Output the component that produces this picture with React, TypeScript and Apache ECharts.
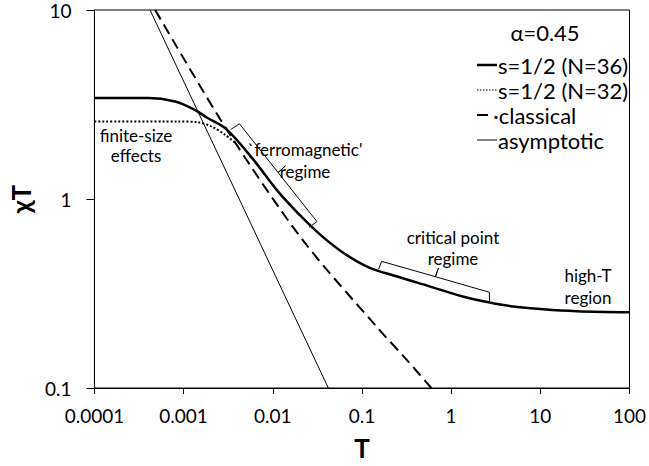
import React, { useEffect, useRef } from 'react';
import * as echarts from 'echarts';

const FONT = "Lato, 'Noto Sans', 'DejaVu Sans', sans-serif";

const xTickLabels = ['0.0001', '0.001', '0.01', '0.1', '1', '10', '100'];
const yTickLabels = ['0.1', '1', '10'];

// s=1/2 (N=36)
const n36T = [0.0001, 0.000188, 0.0004, 0.0008, 0.00132, 0.00184, 0.00305, 0.00603, 0.01135, 0.0203, 0.0337, 0.0634, 0.119, 0.243, 0.573, 1.32, 2.62, 4.68, 10.8, 25.5, 100];
const n36V = [3.42, 3.42, 3.42, 3.28, 2.97, 2.69, 2.33, 1.62, 1.1, 0.818, 0.65, 0.515, 0.435, 0.39, 0.345, 0.306, 0.284, 0.271, 0.261, 0.255, 0.252];

// s=1/2 (N=32)
const n32T = [0.0001, 0.00086, 0.00143, 0.00209, 0.0029, 0.00392];
const n32V = [2.57, 2.57, 2.55, 2.41, 2.19, 1.96];

// classical
const clT = [0.00048, 0.00305, 0.0214, 0.154, 0.29, 0.6];
const clV = [10, 2.33, 0.611, 0.205, 0.148, 0.1];

// asymptotic
const asT = [0.00042, 0.042];
const asV = [10, 0.1];

// brackets (annotation shapes in data coordinates)
const ferroBrT = [0.00337, 0.00423, 0.01148, 0.0139, 0.01148, 0.03126, 0.02553];
const ferroBrV = [2.33, 2.5, 1.38, 1.5, 1.38, 0.76, 0.707];
const critBrT = [0.154, 0.166, 0.667, 0.719, 0.667, 2.69, 2.69];
const critBrV = [0.425, 0.468, 0.388, 0.43, 0.388, 0.321, 0.288];

const legendTitle = 'α=0.45';
const legendNames = ['s=1/2 (N=36)', 's=1/2 (N=32)', '·classical', 'asymptotic'];

const zip = (a: number[], b: number[]) => a.map((t, i) => [t, b[i]]);

const fmt = (labels: string[], offset: number) => (v: number) => {
  const i = Math.round(Math.log10(v)) + offset;
  return labels[i] ?? '';
};

function txt(text: string, x: number, y: number, size: number, align = 'center') {
  return {
    type: 'text',
    x,
    y,
    silent: true,
    style: {
      text,
      fill: '#000',
      fontSize: size,
      fontFamily: FONT,
      textAlign: align,
      align,
      textVerticalAlign: 'middle',
      verticalAlign: 'middle',
    },
  };
}

function seg(x1: number, y1: number, x2: number, y2: number, width: number, dash?: number[]) {
  return {
    type: 'line',
    silent: true,
    shape: { x1, y1, x2, y2 },
    style: { stroke: '#000', lineWidth: width, lineDash: dash },
  };
}

export default function App() {
  const ref = useRef<HTMLDivElement>(null);
  useEffect(() => {
    if (!ref.current) return;
    const chart = echarts.init(ref.current, null, { renderer: 'svg' });
    const axisCommon = {
      type: 'log',
      logBase: 10,
      nameLocation: 'middle',
      nameTextStyle: { fontSize: 26, fontWeight: 'bold', color: '#000', fontFamily: FONT },
      axisLine: { show: true, lineStyle: { color: '#000', width: 1 } },
      splitLine: { show: false },
      minorTick: { show: false },
      minorSplitLine: { show: false },
    };
    chart.setOption({
      animation: false,
      backgroundColor: '#fff',
      textStyle: { fontFamily: FONT },
      grid: { left: 85, right: 18, top: 10, bottom: 77, show: true, borderColor: '#000', borderWidth: 1, backgroundColor: 'transparent' },
      xAxis: {
        ...axisCommon,
        min: 0.0001,
        max: 100,
        name: 'T',
        nameGap: 47,
        axisTick: { show: true, length: 6, lineStyle: { color: '#000' } },
        axisLabel: { formatter: fmt(xTickLabels, 4), fontSize: 19, color: '#000', margin: 18, fontFamily: FONT, showMinLabel: true, showMaxLabel: true },
      },
      yAxis: {
        ...axisCommon,
        min: 0.1,
        max: 10,
        name: 'χT',
        nameGap: 44,
        axisTick: { show: true, length: 8, lineStyle: { color: '#000' } },
        axisLabel: { formatter: fmt(yTickLabels, 1), fontSize: 19, color: '#000', margin: 23, fontFamily: FONT, showMinLabel: true, showMaxLabel: true },
      },
      series: [
        { name: 'asymptotic', type: 'line', data: zip(asT, asV), symbol: 'none', silent: true, lineStyle: { color: '#000', width: 1 }, z: 2 },
        { name: 'classical', type: 'line', data: zip(clT, clV), symbol: 'none', silent: true, smooth: 0.3, lineStyle: { color: '#000', width: 2, type: [11, 6] }, z: 3 },
        { name: 'N32', type: 'line', data: zip(n32T, n32V), symbol: 'none', silent: true, smooth: 0.3, lineStyle: { color: '#000', width: 2, type: [2, 2] }, z: 4 },
        { name: 'N36', type: 'line', data: zip(n36T, n36V), symbol: 'none', silent: true, smooth: 0.35, lineStyle: { color: '#000', width: 2.5 }, z: 5 },
        { name: 'ferroBracket', type: 'line', data: zip(ferroBrT, ferroBrV), symbol: 'none', silent: true, lineStyle: { color: '#000', width: 1 }, z: 6 },
        { name: 'critBracket', type: 'line', data: zip(critBrT, critBrV), symbol: 'none', silent: true, lineStyle: { color: '#000', width: 1 }, z: 6 },
      ],
      graphic: [
        txt('finite-size', 136, 135, 17),
        txt('effects', 136, 155, 17),
        txt('`ferromagnetic\'', 305, 149, 17),
        txt('regime', 305, 171, 17),
        txt('critical point', 453, 237, 17),
        txt('regime', 453, 258, 17),
        txt('high-T', 588, 275, 17),
        txt('region', 588, 297, 17),
        txt(legendTitle, 545, 32, 22),
        seg(477, 65, 497, 65, 2.5),
        txt(legendNames[0], 498, 65, 22, 'left'),
        seg(477, 90, 497, 90, 1, [1.5, 1.5]),
        txt(legendNames[1], 498, 90, 22, 'left'),
        seg(477, 115, 488, 115, 2),
        txt(legendNames[2], 493, 115, 22, 'left'),
        seg(477, 140, 497, 140, 1),
        txt(legendNames[3], 498, 140, 22, 'left'),
      ],
    });
    return () => chart.dispose();
  }, []);
  return <div ref={ref} style={{ position: 'fixed', left: 0, top: 0, width: 649, height: 466, background: '#fff' }} />;
}
